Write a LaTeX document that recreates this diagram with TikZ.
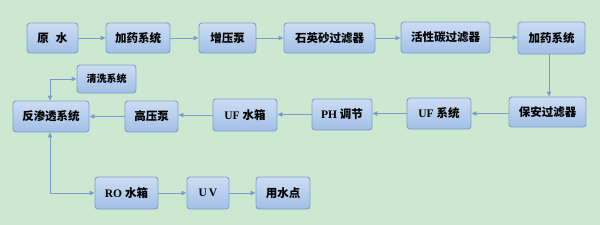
\documentclass[tikz,border=0pt]{standalone}
\usepackage{fontspec}
\setmainfont{Liberation Serif}
\newfontfamily\cjk{Noto Sans CJK SC}
\usetikzlibrary{arrows.meta}
\definecolor{bgc}{HTML}{CDE8D1}
\definecolor{boxtop}{HTML}{CCDDF3}
\definecolor{boxbot}{HTML}{A2BFE6}
\definecolor{boxline}{HTML}{7E9FCC}
\definecolor{arrowc}{HTML}{7B9CCA}
\newcommand{\zh}[1]{{\cjk\bfseries #1}}
\tikzset{
  box/.style={draw=boxline, line width=0.9pt, rounded corners=3pt,
    top color=boxtop, bottom color=boxbot, inner sep=0pt,
    font=\fontsize{11.5}{13}\selectfont\bfseries, text=black},
  arr/.style={draw=arrowc, line width=0.9pt, -{Triangle[length=5pt,width=4.5pt]}},
  darr/.style={draw=arrowc, line width=0.9pt, {Triangle[length=5pt,width=4.5pt]}-{Triangle[length=5pt,width=4.5pt]}}
}
\begin{document}
\begin{tikzpicture}[x=1pt,y=-1pt]
\fill[bgc] (0,0) rectangle (600,225);
\useasboundingbox (0,0) rectangle (600,225);
% row 1
\node[box, minimum width=51, minimum height=30] (yuan) at (52.5,38) {\zh{原}\hspace{7pt}\zh{水}};
\node[box, minimum width=64, minimum height=30] (jy1) at (138,38) {\zh{加药系统}};
\node[box, minimum width=57, minimum height=30] (zyb) at (227.5,38) {\zh{增压泵}};
\node[box, minimum width=91, minimum height=30] (sys) at (329.5,38) {\zh{石英砂过滤器}};
\node[box, minimum width=89, minimum height=31] (hxt) at (445.5,37.5) {\zh{活性碳过滤器}};
\node[box, minimum width=67, minimum height=32] (jy2) at (551.5,38) {\zh{加药系统}};
% row 2
\node[box, minimum width=77, minimum height=30] (baoan) at (547.5,112) {\zh{保安过滤器}};
\node[box, minimum width=64, minimum height=31] (ufsys) at (439,113.5) {UF \zh{系统}};
\node[box, minimum width=60, minimum height=31] (ph) at (342,114.5) {PH \zh{调节}};
\node[box, minimum width=64, minimum height=32] (ufsx) at (245,115) {UF \zh{水箱}};
\node[box, minimum width=53, minimum height=31] (gyb) at (151.5,116.5) {\zh{高压泵}};
\node[box, minimum width=76, minimum height=31] (fst) at (51,116.5) {\zh{反渗透系统}};
\node[box, minimum width=59, minimum height=28] (qx) at (106.5,79) {\fontsize{10}{12}\selectfont\zh{清洗系统}};
% row 3
\node[box, minimum width=63, minimum height=32] (ro) at (126.5,193) {RO \zh{水箱}};
\node[box, minimum width=42, minimum height=32] (uv) at (208,193) {U\,V};
\node[box, minimum width=54, minimum height=32] (ysd) at (283,193) {\zh{用水点}};
% connectors
\draw[arr] (yuan.east) -- (jy1.west);
\draw[arr] (jy1.east) -- (zyb.west);
\draw[arr] (zyb.east) -- (sys.west);
\draw[arr] (sys.east) -- (sys.east -| hxt.west);
\draw[arr] (hxt.east) -- (hxt.east -| jy2.west);
\draw[arr] ([xshift=-2.5pt]jy2.south) -- ([xshift=-2.5pt]jy2.south |- baoan.north);
\draw[arr] (baoan.west |- ufsys.east) -- (ufsys.east);
\draw[arr] (ufsys.west) -- (ufsys.west -| ph.east);
\draw[arr] (ph.west) -- (ph.west -| ufsx.east);
\draw[arr] (ufsx.west) -- (ufsx.west -| gyb.east);
\draw[arr] (gyb.west) -- (gyb.west -| fst.east);
\draw[darr] ([xshift=-1pt]fst.north) |- (qx.west);
\draw[darr] ([xshift=-1pt]fst.south) |- (ro.west);
\draw[arr] (ro.east) -- (uv.west);
\draw[arr] (uv.east) -- (ysd.west);
\end{tikzpicture}
\end{document}
